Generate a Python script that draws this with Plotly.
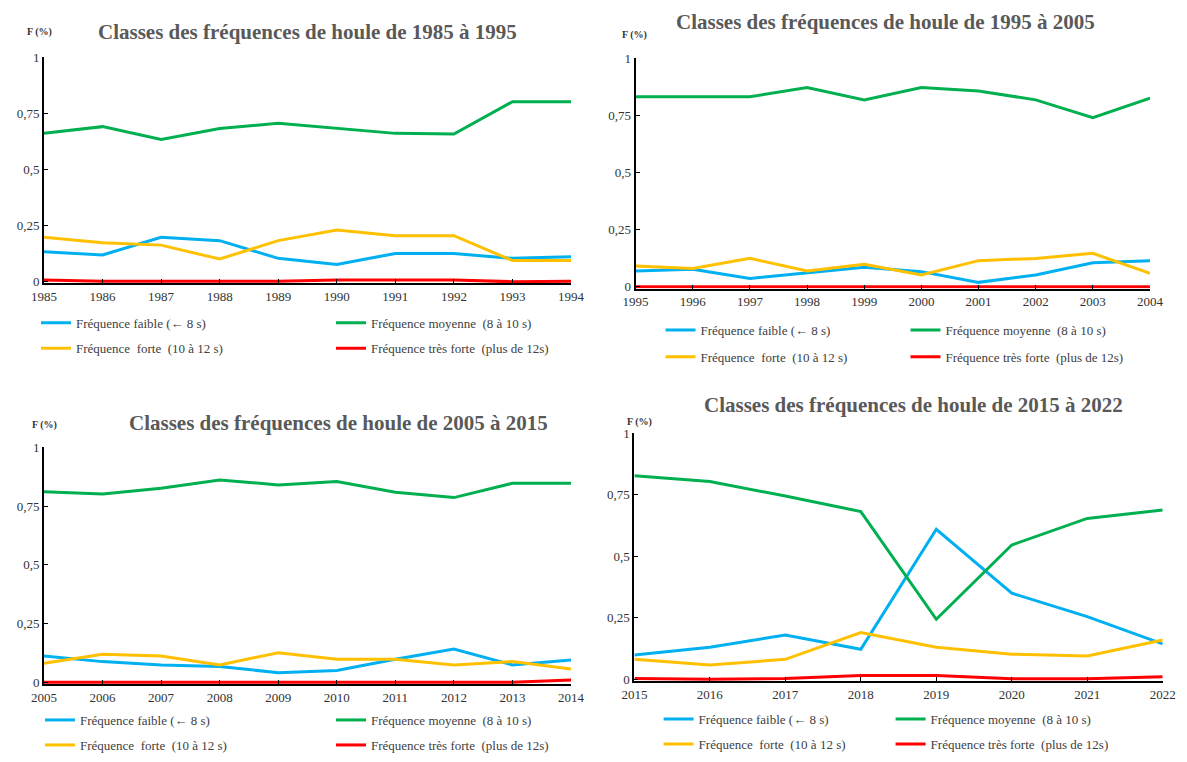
import plotly.graph_objects as go

# The page adds an 8px body margin, so the figure is drawn 16px smaller
# and every reference pixel position is shifted by 8px.
PAGE_W, PAGE_H = 1187, 762
OFF = 8
W, H = PAGE_W - 2 * OFF, PAGE_H - 2 * OFF

# ---------------- data ----------------
years_1 = [1985, 1986, 1987, 1988, 1989, 1990, 1991, 1992, 1993, 1994]
faible_1 = [0.134, 0.119, 0.198, 0.183, 0.104, 0.077, 0.126, 0.126, 0.104, 0.111]
moyenne_1 = [0.661, 0.691, 0.634, 0.683, 0.706, 0.683, 0.661, 0.658, 0.802, 0.802]
forte_1 = [0.198, 0.174, 0.163, 0.101, 0.183, 0.230, 0.205, 0.205, 0.094, 0.094]
tres_forte_1 = [0.008, 0.002, 0.002, 0.002, 0.002, 0.008, 0.008, 0.008, 0.0, 0.002]

years_2 = [1995, 1996, 1997, 1998, 1999, 2000, 2001, 2002, 2003, 2004]
faible_2 = [0.069, 0.076, 0.036, 0.061, 0.085, 0.066, 0.019, 0.051, 0.105, 0.114]
moyenne_2 = [0.832, 0.832, 0.832, 0.872, 0.818, 0.872, 0.857, 0.818, 0.740, 0.825]
forte_2 = [0.091, 0.080, 0.124, 0.069, 0.098, 0.051, 0.114, 0.124, 0.146, 0.058]
tres_forte_2 = [0.0, 0.0, 0.0, 0.0, 0.0, 0.0, 0.0, 0.0, 0.0, 0.0]

years_3 = [2005, 2006, 2007, 2008, 2009, 2010, 2011, 2012, 2013, 2014]
faible_3 = [0.112, 0.088, 0.074, 0.067, 0.041, 0.050, 0.098, 0.142, 0.074, 0.095]
moyenne_3 = [0.811, 0.801, 0.826, 0.861, 0.840, 0.854, 0.809, 0.786, 0.847, 0.847]
forte_3 = [0.081, 0.119, 0.112, 0.074, 0.126, 0.098, 0.098, 0.074, 0.088, 0.057]
tres_forte_3 = [0.0, 0.0, 0.0, 0.0, 0.0, 0.0, 0.0, 0.0, 0.0, 0.010]

years_4 = [2015, 2016, 2017, 2018, 2019, 2020, 2021, 2022]
faible_4 = [0.099, 0.130, 0.180, 0.122, 0.610, 0.350, 0.255, 0.144]
moyenne_4 = [0.827, 0.804, 0.745, 0.682, 0.244, 0.546, 0.654, 0.688]
forte_4 = [0.081, 0.058, 0.081, 0.190, 0.130, 0.102, 0.095, 0.160]
tres_forte_4 = [0.003, 0.0, 0.003, 0.015, 0.015, 0.002, 0.002, 0.010]

titles = [
    "Classes des fréquences de houle de 1985 à 1995",
    "Classes des fréquences de houle de 1995 à 2005",
    "Classes des fréquences de houle de 2005 à 2015",
    "Classes des fréquences de houle de 2015 à 2022",
]
series_names = [
    "Fréquence faible (← 8 s)",
    "Fréquence moyenne  (8 à 10 s)",
    "Fréquence  forte  (10 à 12 s)",
    "Fréquence très forte  (plus de 12s)",
]
y_tick_vals = [0, 0.25, 0.5, 0.75, 1]
y_tick_text = ["0", "0,25", "0,5", "0,75", "1"]
y_axis_label = "F (%)"

colors = ["#00B0F0", "#00B050", "#FFC000", "#FF0000"]

data = [
    (years_1, [faible_1, moyenne_1, forte_1, tres_forte_1]),
    (years_2, [faible_2, moyenne_2, forte_2, tres_forte_2]),
    (years_3, [faible_3, moyenne_3, forte_3, tres_forte_3]),
    (years_4, [faible_4, moyenne_4, forte_4, tres_forte_4]),
]

# ---------------- geometry (page pixels) ----------------
geom = [
    dict(x0=44, x1=571, yt=57.3, y0=281.7, tx=307, ty=31.7, fx=39.5, fy=32,
         leg_x=36, leg_rows=(322.7, 348.3), ew=250),
    dict(x0=635.6, x1=1150, yt=58.3, y0=286.7, tx=885, ty=21.7, fx=634, fy=35,
         leg_x=660.5, leg_rows=(330, 356.7), ew=200),
    dict(x0=44, x1=571, yt=447.3, y0=682.3, tx=338, ty=423.3, fx=44, fy=425,
         leg_x=40, leg_rows=(720, 745), ew=246),
    dict(x0=634.4, x1=1162.7, yt=433.3, y0=679.3, tx=913, ty=405, fx=639, fy=421.7,
         leg_x=658.6, leg_rows=(719, 744), ew=187),
]


def px(x):
    return (x - OFF) / W


def py(y):
    return 1 - (y - OFF) / H


YMIN = -0.008
FONT = "Liberation Serif, Times New Roman, serif"

fig = go.Figure()
layout = dict(
    width=W, height=H,
    margin=dict(l=0, r=0, t=0, b=0, pad=0, autoexpand=False),
    paper_bgcolor="white", plot_bgcolor="white",
    font=dict(family=FONT, color="#404040"),
    annotations=[],
)

for i, ((years, series), g) in enumerate(zip(data, geom), start=1):
    xa = "x" if i == 1 else f"x{i}"
    ya = "y" if i == 1 else f"y{i}"
    unit = g["y0"] - g["yt"]
    y_bottom_px = g["y0"] - YMIN * unit
    legs = []
    for r in range(2):
        k = 2 * (i - 1) + r + 1
        legs.append("legend" if k == 1 else f"legend{k}")
    for j, (vals, name, col) in enumerate(zip(series, series_names, colors)):
        fig.add_trace(go.Scatter(
            x=years, y=vals, name=name, mode="lines",
            line=dict(color=col, width=3),
            xaxis=xa, yaxis=ya,
            legend=legs[0] if j in (0, 1) else legs[1],
            showlegend=True,
        ))
    xkey = "xaxis" if i == 1 else f"xaxis{i}"
    ykey = "yaxis" if i == 1 else f"yaxis{i}"
    layout[xkey] = dict(
        domain=[px(g["x0"]), px(g["x1"])],
        range=[years[0], years[-1]],
        anchor=ya,
        tickmode="array", tickvals=years, ticktext=[str(y) for y in years],
        showline=True, linecolor="black", linewidth=2,
        ticks="inside", ticklen=4, tickcolor="black", tickwidth=1,
        showgrid=False, zeroline=False, automargin=False,
        tickfont=dict(family=FONT, size=13, color="#333333"),
    )
    layout[ykey] = dict(
        domain=[py(y_bottom_px), py(g["yt"])],
        range=[YMIN, 1],
        anchor=xa,
        tickmode="array", tickvals=y_tick_vals, ticktext=y_tick_text,
        showline=True, linecolor="black", linewidth=2,
        ticks="inside", ticklen=4, tickcolor="black", tickwidth=1,
        showgrid=False, zeroline=False, automargin=False,
        tickfont=dict(family=FONT, size=13, color="#333333"),
    )
    for r, leg in enumerate(legs):
        layout[leg] = dict(
            orientation="h",
            x=px(g["leg_x"]), xanchor="left",
            y=py(g["leg_rows"][r]), yanchor="middle",
            entrywidth=g["ew"], entrywidthmode="pixels",
            font=dict(family=FONT, size=13, color="#404040"),
            bgcolor="rgba(0,0,0,0)",
            traceorder="normal",
            itemclick=False, itemdoubleclick=False,
        )
    layout["annotations"].append(dict(
        text=f"<b>{titles[i-1]}</b>", x=px(g["tx"]), y=py(g["ty"]),
        xref="paper", yref="paper", xanchor="center", yanchor="middle",
        showarrow=False, font=dict(family=FONT, size=21, color="#595959"),
    ))
    layout["annotations"].append(dict(
        text=f"<b>{y_axis_label}</b>", x=px(g["fx"]), y=py(g["fy"]),
        xref="paper", yref="paper", xanchor="center", yanchor="middle",
        showarrow=False, font=dict(family=FONT, size=10, color="#333333"),
    ))

fig.update_layout(**layout)
fig.write_html("out.html")
